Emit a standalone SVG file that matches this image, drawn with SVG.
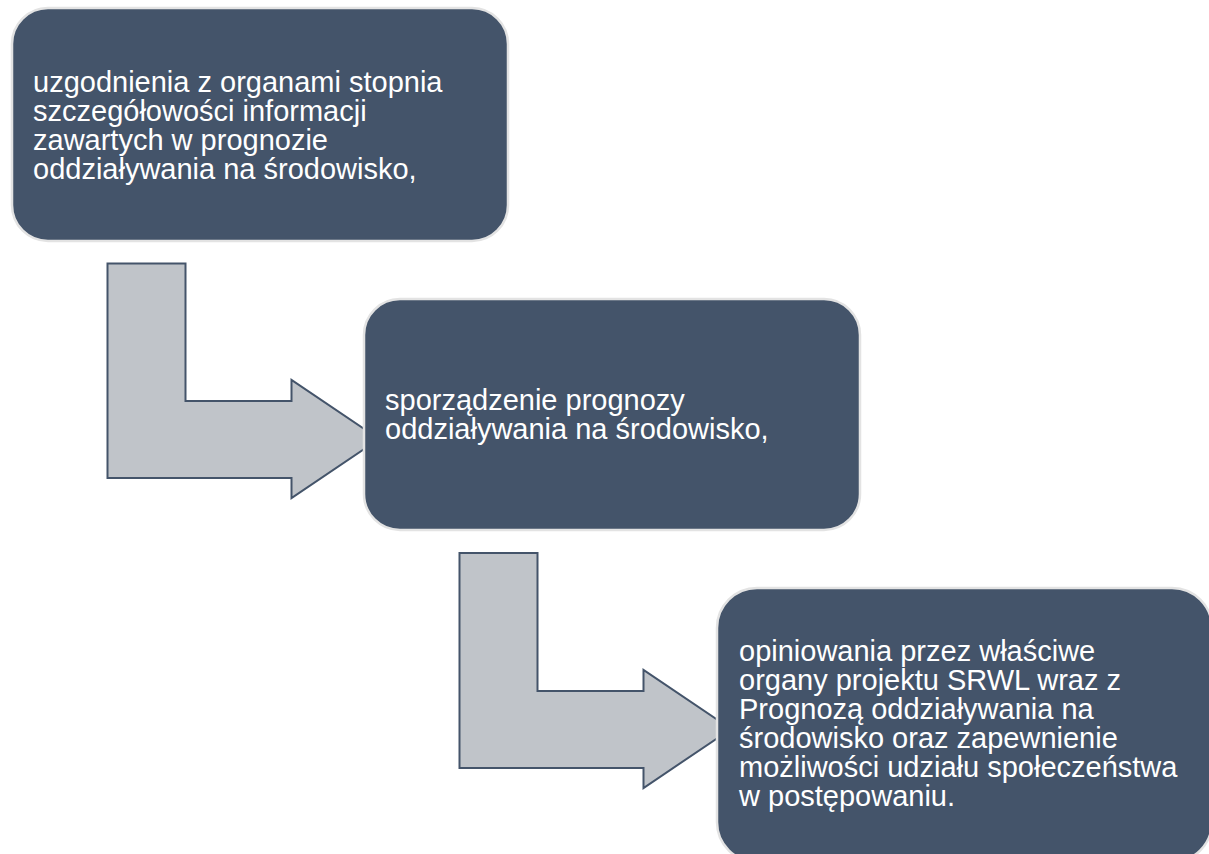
<svg xmlns="http://www.w3.org/2000/svg" width="1209" height="854" viewBox="0 0 1209 854">
<style>
.box{fill:#44546a;stroke:#e3e3e3;stroke-width:2.5}
.arrow{fill:#c0c4c9;stroke:#44546a;stroke-width:2;stroke-linejoin:miter}
.t{font-family:"Liberation Sans",Arial,sans-serif;font-size:29px;fill:#ffffff}
</style>
<rect width="1209" height="854" fill="#ffffff"/>
<g id="connectors">
<path class="arrow" d="M107.5,263.5 H185.5 V401 H291.5 V380 L379,439 L291.5,498 V478 H107.5 Z"/>
<path class="arrow" d="M459.5,553 H537.5 V691 H643.5 V670 L731,729 L643.5,788 V768 H459.5 Z"/>
</g>
<g id="node1">
<rect class="box" x="12" y="8" width="496" height="233" rx="36" ry="36"/>
<text class="t" x="33" y="92">uzgodnienia z organami stopnia</text>
<text class="t" x="33" y="121">szczegółowości informacji</text>
<text class="t" x="33" y="150">zawartych w prognozie</text>
<text class="t" x="33" y="179">oddziaływania na środowisko,</text>
</g>
<g id="node2">
<rect class="box" x="364" y="299" width="496" height="231" rx="36" ry="36"/>
<text class="t" x="385" y="410">sporządzenie prognozy</text>
<text class="t" x="385" y="439">oddziaływania na środowisko,</text>
</g>
<g id="node3">
<rect class="box" x="717" y="588" width="495" height="274" rx="40" ry="40"/>
<text class="t" x="739" y="661">opiniowania przez właściwe</text>
<text class="t" x="739" y="690">organy projektu SRWL wraz z</text>
<text class="t" x="739" y="719">Prognozą oddziaływania na</text>
<text class="t" x="739" y="748">środowisko oraz zapewnienie</text>
<text class="t" x="739" y="777">możliwości udziału społeczeństwa</text>
<text class="t" x="739" y="806">w postępowaniu.</text>
</g>
</svg>
